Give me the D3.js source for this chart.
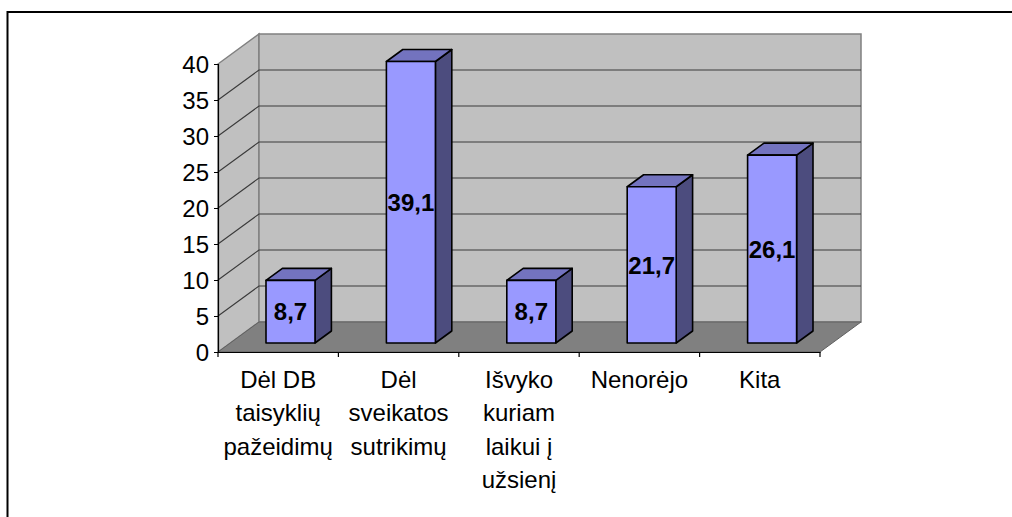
<!DOCTYPE html>
<html>
<head>
<meta charset="utf-8">
<script src="https://cdn.jsdelivr.net/npm/d3@7"></script>
<style>
  html, body { margin: 0; padding: 0; background: #fff; }
  svg { display: block; }
  text { font-family: "Liberation Sans", Arial, sans-serif; }
</style>
</head>
<body>
<svg id="chart" width="1012" height="517"></svg>
<script>
// ---- data ----
const categories = ["Dėl DB taisyklių pažeidimų", "Dėl sveikatos sutrikimų", "Išvyko kuriam laikui į užsienį", "Nenorėjo", "Kita"];
const categoryLines = [
  ["Dėl DB", "taisyklių", "pažeidimų"],
  ["Dėl", "sveikatos", "sutrikimų"],
  ["Išvyko", "kuriam", "laikui į", "užsienį"],
  ["Nenorėjo"],
  ["Kita"]
];
const values = [8.7, 39.1, 8.7, 21.7, 26.1];
const valueLabels = ["8,7", "39,1", "8,7", "21,7", "26,1"];
const yTicks = [0, 5, 10, 15, 20, 25, 30, 35, 40];

// ---- layout ----
const svg = d3.select("#chart");
const plotLeft = 218, plotRight = 820, yBottom = 352, yTop = 64;
const depthX = 41, depthY = -30;          // full depth offset of the 3D box
const barZ0 = 0.3, barZ1 = 0.7;           // bar front/back depth fraction
const barFrac = 0.407;

const x = d3.scaleBand().domain(categories).range([plotLeft, plotRight]).padding(0);
const y = d3.scaleLinear().domain([0, 40]).range([yBottom, yTop]);

const P = (px, py, z) => [px + z * depthX, py + z * depthY];
const poly = pts => "M" + pts.map(p => p.join(",")).join("L") + "Z";

// outer frame (only top and left visible)
svg.append("rect").attr("x", 7.5).attr("y", 12).attr("width", 1100).attr("height", 600)
  .attr("fill", "none").attr("stroke", "#000").attr("stroke-width", 2);

const y0 = y(0), y40 = y(40);
// left wall
svg.append("path")
  .attr("d", poly([P(plotLeft, y40, 0), P(plotLeft, y40, 1), P(plotLeft, y0, 1), P(plotLeft, y0, 0)]))
  .attr("fill", "#C0C0C0").attr("stroke", "#808080").attr("stroke-width", 1.5);
// back wall
svg.append("path")
  .attr("d", poly([P(plotLeft, y40, 1), P(plotRight, y40, 1), P(plotRight, y0, 1), P(plotLeft, y0, 1)]))
  .attr("fill", "#C0C0C0").attr("stroke", "#808080").attr("stroke-width", 1.5);
// floor
svg.append("path")
  .attr("d", poly([P(plotLeft, y0, 0), P(plotLeft, y0, 1), P(plotRight, y0, 1), P(plotRight, y0, 0)]))
  .attr("fill", "#808080").attr("stroke", "#606060").attr("stroke-width", 1);

// gridlines
const gl = svg.append("g").attr("stroke", "#3a3a3a").attr("stroke-width", 1.1).attr("fill", "none");
yTicks.filter(t => t > 0 && t < 40).forEach(t => {
  const a = P(plotLeft, y(t), 0), b = P(plotLeft, y(t), 1), c = P(plotRight, y(t), 1);
  gl.append("path").attr("d", "M" + a + "L" + b + "L" + c);
});

// y axis
const yAxis = d3.axisLeft(y).tickValues(yTicks).tickSize(4).tickPadding(5).tickFormat(d3.format("d"));
const ya = svg.append("g").attr("transform", `translate(${plotLeft},0)`).call(yAxis);
ya.select(".domain").attr("stroke", "#000").attr("stroke-width", 1.2);
ya.selectAll(".tick line").attr("stroke", "#000");
ya.selectAll(".tick text").attr("font-size", 24).attr("fill", "#000")
  .attr("font-family", "'Liberation Sans', Arial, sans-serif").attr("dy", "0.36em");

// x axis
const xa = svg.append("g").attr("transform", `translate(0,${yBottom})`)
  .call(d3.axisBottom(x).tickSize(0).tickFormat(""));
xa.select(".domain").attr("stroke", "#000").attr("stroke-width", 1.2);
const xTickPos = [plotLeft].concat(categories.map(c => x(c) + x.bandwidth()));
svg.append("g").selectAll("line").data(xTickPos).join("line")
  .attr("x1", d => d).attr("x2", d => d).attr("y1", yBottom).attr("y2", yBottom + 5)
  .attr("stroke", "#000").attr("stroke-width", 1.2);

// category labels
const catG = svg.append("g").attr("font-size", 24).attr("fill", "#000").attr("text-anchor", "middle");
categoryLines.forEach((lines, i) => {
  const cx = x(categories[i]) + x.bandwidth() / 2;
  const t = catG.append("text").attr("x", cx).attr("y", 388);
  lines.forEach((ln, j) => t.append("tspan").attr("x", cx).attr("y", 388 + j * 33.3).text(ln));
});

// bars
const bw = x.bandwidth() * barFrac;
const barsG = svg.append("g").attr("stroke", "#000").attr("stroke-width", 1.6).attr("stroke-linejoin", "round");
categories.forEach((c, i) => {
  const cx = x(c) + x.bandwidth() / 2;
  const xl = cx - bw / 2, xr = cx + bw / 2;
  const yb = y(0), yt = y(values[i]);
  const fTL = P(xl, yt, barZ0), fTR = P(xr, yt, barZ0), fBR = P(xr, yb, barZ0), fBL = P(xl, yb, barZ0);
  const bTL = P(xl, yt, barZ1), bTR = P(xr, yt, barZ1), bBR = P(xr, yb, barZ1);
  // side
  barsG.append("path").attr("d", poly([fTR, bTR, bBR, fBR])).attr("fill", "#4C4C7E");
  // top
  barsG.append("path").attr("d", poly([fTL, bTL, bTR, fTR])).attr("fill", "#7373BF");
  // front
  barsG.append("path").attr("d", poly([fTL, fTR, fBR, fBL])).attr("fill", "#9999FF");
  // value label
  svg.append("text")
    .attr("x", (fTL[0] + fTR[0]) / 2)
    .attr("y", (fTL[1] + fBL[1]) / 2)
    .attr("dy", "0.36em")
    .attr("text-anchor", "middle")
    .attr("font-size", 24).attr("font-weight", "bold").attr("fill", "#000")
    .text(valueLabels[i]);
});
</script>
</body>
</html>
